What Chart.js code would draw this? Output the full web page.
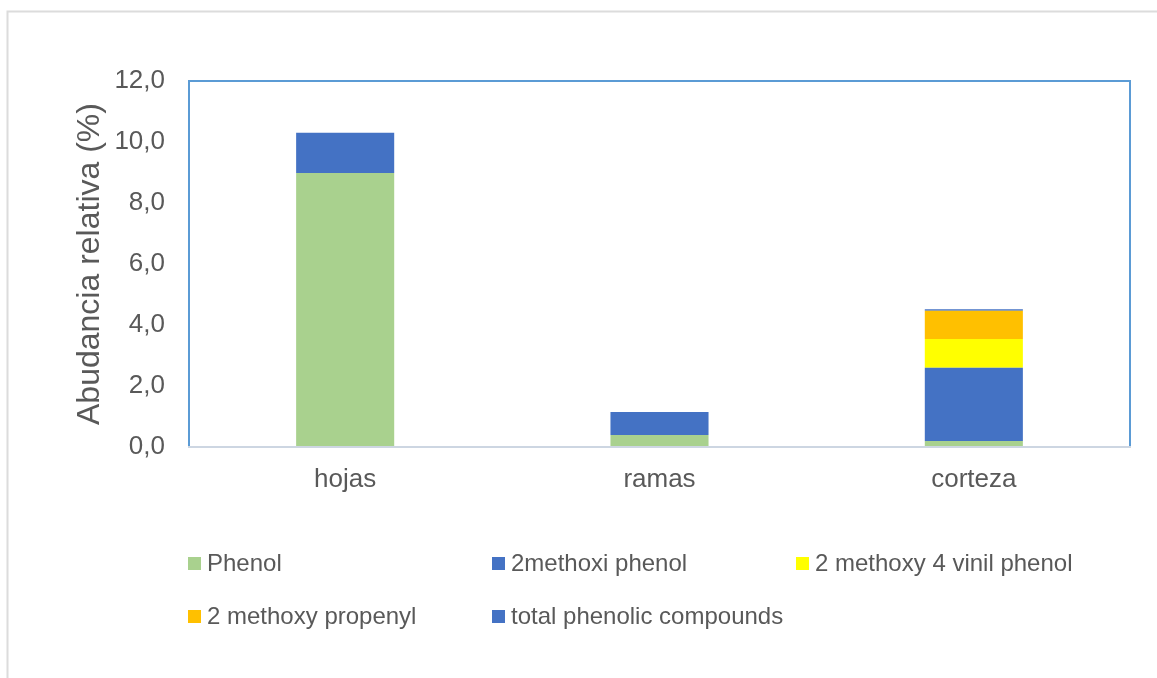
<!DOCTYPE html>
<html>
<head>
<meta charset="utf-8">
<script src="https://cdn.jsdelivr.net/npm/chart.js@4"></script>
<style>
  body { margin: 0; background: #fff; }
</style>
</head>
<body>
<canvas id="myChart" width="1157" height="678"></canvas>
<script>
const labels = ['hojas', 'ramas', 'corteza'];

const phenol = [8.98, 0.39, 0.2];
const methoxiPhenol = [1.32, 0.76, 2.4];
const vinilPhenol = [0, 0, 0.94];
const methoxyPropenyl = [0, 0, 0.93];
const totalPhenolic = [0, 0, 0.05];

const yTicks = [0, 2, 4, 6, 8, 10, 12];

const textColor = '#595959';
const fontFamily = '"Liberation Sans", Arial, sans-serif';

// outer frame, plot border and a fixed two-row legend
const framePlugin = {
  id: 'frame',
  beforeDraw(chart) {
    const ctx = chart.ctx;
    ctx.save();
    ctx.strokeStyle = '#dcdcdc';
    ctx.lineWidth = 2;
    ctx.beginPath();
    ctx.moveTo(7.5, 678);
    ctx.lineTo(7.5, 11.5);
    ctx.lineTo(1157, 11.5);
    ctx.stroke();
    ctx.restore();
  },
  afterDraw(chart) {
    const ctx = chart.ctx;
    const a = chart.chartArea;
    ctx.save();
    ctx.strokeStyle = '#5b9bd5';
    ctx.lineWidth = 2;
    ctx.beginPath();
    ctx.moveTo(a.left + 1, a.bottom);
    ctx.lineTo(a.left + 1, a.top);
    ctx.lineTo(a.right - 1, a.top);
    ctx.lineTo(a.right - 1, a.bottom);
    ctx.stroke();
    ctx.strokeStyle = '#cdd6e2';
    ctx.beginPath();
    ctx.moveTo(a.left, a.bottom);
    ctx.lineTo(a.right, a.bottom);
    ctx.stroke();

    const cols = [188, 492, 796];
    const rows = [563.5, 616.5];
    ctx.font = '24px ' + fontFamily;
    ctx.textBaseline = 'middle';
    ctx.textAlign = 'left';
    chart.data.datasets.forEach((ds, i) => {
      const x = cols[i % 3];
      const y = rows[Math.floor(i / 3)];
      ctx.fillStyle = ds.backgroundColor;
      ctx.fillRect(x, y - 6.5, 13, 13);
      ctx.fillStyle = textColor;
      ctx.fillText(ds.label, x + 19, y + 1);
    });
    ctx.restore();
  }
};

const data = {
  labels: labels,
  datasets: [
    { label: 'Phenol', data: phenol, backgroundColor: '#a9d18e' },
    { label: '2methoxi phenol', data: methoxiPhenol, backgroundColor: '#4472c4' },
    { label: '2 methoxy 4 vinil phenol', data: vinilPhenol, backgroundColor: '#ffff00' },
    { label: '2 methoxy propenyl', data: methoxyPropenyl, backgroundColor: '#ffc000' },
    { label: 'total phenolic compounds', data: totalPhenolic, backgroundColor: '#4472c4' }
  ]
};

const config = {
  type: 'bar',
  data,
  options: {
    responsive: false,
    animation: false,
    layout: { padding: { top: 81, right: 26, left: 0, bottom: 0 } },
    datasets: {
      bar: { categoryPercentage: 1, barPercentage: 0.312, borderWidth: 0 }
    },
    plugins: {
      legend: { display: false },
      tooltip: { enabled: false }
    },
    scales: {
      x: {
        stacked: true,
        grid: { display: false, drawTicks: false },
        border: { display: false },
        ticks: { color: textColor, font: { size: 26, family: fontFamily }, padding: 17 },
        afterFit(s) { s.height = 231; }
      },
      y: {
        stacked: true,
        min: 0,
        max: 12,
        grid: { display: false, drawTicks: false },
        border: { display: false },
        afterBuildTicks(s) { s.ticks = yTicks.map(v => ({ value: v })); },
        ticks: {
          color: textColor,
          font: { size: 26, family: fontFamily },
          padding: 23,
          callback: v => v.toFixed(1).replace('.', ',')
        },
        title: {
          display: true,
          text: 'Abudancia relativa (%)',
          color: textColor,
          font: { size: 32, family: fontFamily },
          padding: { top: 71, bottom: 0 }
        },
        afterFit(s) { s.width = 188; }
      }
    }
  },
  plugins: [framePlugin]
};

var myChart = new Chart(document.getElementById('myChart'), config);
</script>
</body>
</html>
